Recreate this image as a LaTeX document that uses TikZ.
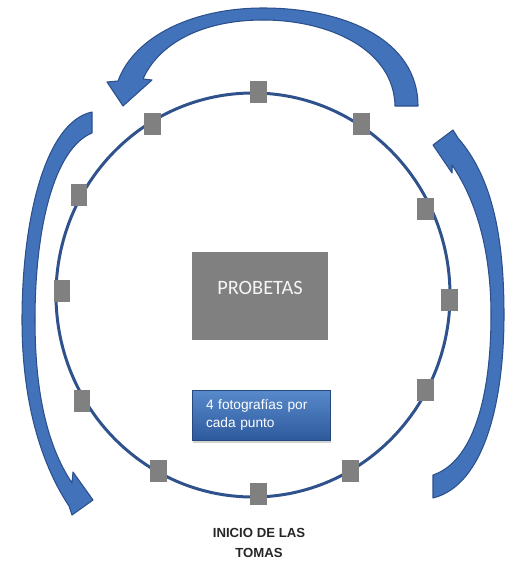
\documentclass[tikz,border=0pt]{standalone}
\usepackage{fontspec}
\setmainfont{Liberation Sans}
\newfontfamily\calfont{Carlito}
\usetikzlibrary{calc,shadows,positioning}
\definecolor{arrowblue}{RGB}{66,114,186}
\definecolor{arrowedge}{RGB}{44,80,140}
\definecolor{ringblue}{RGB}{47,82,140}
\definecolor{boxgray}{RGB}{128,128,128}
\definecolor{boxtop}{RGB}{88,138,204}
\definecolor{boxbottom}{RGB}{46,90,156}
\tikzset{
  punto/.style={fill=boxgray, minimum width=0.34cm, minimum height=0.44cm, inner sep=0pt},
  flecha/.style={fill=arrowblue, draw=arrowedge, line width=0.6pt, line join=round},
}

\begin{document}
\begin{tikzpicture}[x=0.02cm, y=-0.02cm]
\useasboundingbox (0,0) rectangle (506,561);
% ring of positions
\draw[ringblue, line width=1.7pt] (253,295) ellipse [x radius=197, y radius=202];
\node (p1) at (258,92) [punto] {};
\node (p2) at (152,124) [punto] {};
\node (p3) at (361,124) [punto] {};
\node (p4) at (79,195) [punto] {};
\node (p5) at (425,209) [punto] {};
\node (p6) at (62,291) [punto] {};
\node (p7) at (449,300) [punto] {};
\node (p8) at (82,401) [punto] {};
\node (p9) at (425,390) [punto] {};
\node (p10) at (158,471) [punto] {};
\node (p11) at (350,471) [punto] {};
\node (p12) at (258,494) [punto] {};
% boxes in the middle
\node (caja) at (260,296) [fill=boxgray, minimum width=2.72cm, minimum height=1.76cm, inner sep=0pt] {};
\node (probetas) at (260,288) [text=white!92!gray, font=\calfont\fontsize{11.6}{13}\selectfont] {PROBETAS};
\node (fotos) at (261,415) [top color=boxtop, bottom color=boxbottom, draw=boxbottom!80!black, line width=0.3pt,
  drop shadow={shadow xshift=0.5pt, shadow yshift=-1.5pt, opacity=0.35},
  minimum width=2.76cm, minimum height=1.0cm, text width=2.2cm, inner xsep=0.28cm, align=left,
  text=white, font=\fontsize{7.8}{10.2}\selectfont] {4 fotografías por\\cada punto};
\node (inicio) at (259,543) [align=center, inner sep=0pt, text=black!85, font=\bfseries\fontsize{7.5}{11.6}\selectfont] {INICIO DE LAS\\TOMAS};
% curved arrows
\path[flecha] (418,106) -- (395,106) .. controls (394,50) and (330,20) .. (263,20)
  .. controls (200,20) and (158,45) .. (143,79) -- (152,80) -- (123,106) -- (107,82) -- (118,81)
  .. controls (135,35) and (195,8) .. (263,8) .. controls (345,8) and (418,40) .. (418,106) -- cycle;
\path[flecha] (92,112) .. controls (45,122) and (22,220) .. (22,320)
  .. controls (22,410) and (45,470) .. (69,506) -- (72,515) -- (93,500) -- (73,472) -- (72,483)
  .. controls (50,450) and (35,400) .. (35,320) .. controls (35,225) and (55,148) .. (92,133) -- cycle;
\path[flecha] (433,498) .. controls (485,485) and (504,400) .. (504,315)
  .. controls (504,230) and (490,175) .. (458,138) -- (453,130) -- (433,145) -- (452,173) -- (452,165)
  .. controls (476,200) and (491,250) .. (491,315) .. controls (491,400) and (472,462) .. (433,475) -- cycle;
\end{tikzpicture}
\end{document}
